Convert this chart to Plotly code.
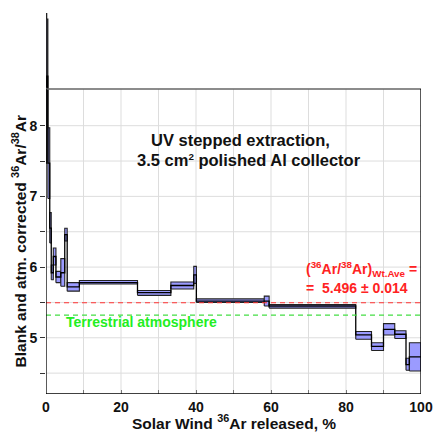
import plotly.graph_objects as go

# Step segments: released fraction (%) start/end, ratio lower/upper bound, central value
x_start = [0.0, 0.2, 0.5, 1.0, 1.4, 1.95, 2.65, 3.95, 5.0, 5.65, 8.9, 24.4, 33.3, 39.4, 40.1, 58.2, 59.5, 82.6, 86.8, 90.0, 93.0, 96.0, 96.9]
x_end   = [0.2, 0.5, 1.0, 1.4, 1.95, 2.65, 3.95, 5.0, 5.65, 8.9, 24.4, 33.3, 39.4, 40.1, 58.2, 59.5, 82.6, 86.8, 90.0, 93.0, 96.0, 96.9, 100.0]
ratio_lo = [7.47, 7.95, 6.97, 6.34, 5.82, 6.03, 5.78, 5.73, 6.37, 5.66, 5.76, 5.60, 5.69, 5.77, 5.50, 5.45, 5.42, 4.98, 4.82, 5.04, 4.99, 4.54, 4.53]
ratio_hi = [9.64, 9.51, 7.97, 6.77, 6.03, 6.27, 5.94, 6.12, 6.55, 5.78, 5.81, 5.67, 5.79, 6.01, 5.55, 5.59, 5.47, 5.09, 4.93, 5.20, 5.10, 4.71, 4.93]
ratio_c  = [8.55, 8.70, 7.47, 6.55, 5.92, 6.15, 5.86, 5.92, 6.46, 5.72, 5.78, 5.64, 5.74, 5.89, 5.52, 5.52, 5.45, 5.04, 4.88, 5.12, 5.05, 4.62, 4.73]

wt_ave = 5.496
terrestrial = 5.32

y_ticks = [4.5, 5.0, 5.5, 6.0, 6.5, 7.0, 7.5, 8.0]
y_labels = ["", "5", "", "6", "", "7", "", "8"]
x_ticks = [0, 10, 20, 30, 40, 50, 60, 70, 80, 90, 100]
x_labels = ["0", "", "20", "", "40", "", "60", "", "80", "", "100"]

Y_MIN, Y_MAX = 4.205, 9.594
FRAME_TOP = 8.52

fig = go.Figure()

for xs, xe, lo, hi in zip(x_start, x_end, ratio_lo, ratio_hi):
    fig.add_trace(go.Scatter(
        x=[xs, xe, xe, xs, xs], y=[lo, lo, hi, hi, lo],
        mode="lines", fill="toself", fillcolor="rgb(155,155,255)",
        line=dict(color="#222222", width=1.1), hoverinfo="skip"))

fig.add_trace(go.Scatter(
    x=x_start + [x_end[-1]], y=ratio_c + [ratio_c[-1]],
    mode="lines", line=dict(color="black", width=1.3, shape="hv"), hoverinfo="skip"))

shapes = []
for v in y_ticks:
    shapes.append(dict(type="line", xref="x", yref="y", x0=0, x1=100, y0=v, y1=v,
                       line=dict(color="#dddddd", width=1), layer="below"))
for v in x_ticks[1:-1]:
    shapes.append(dict(type="line", xref="x", yref="y", x0=v, x1=v, y0=Y_MIN, y1=FRAME_TOP,
                       line=dict(color="#dddddd", width=1), layer="below"))
# reference lines
shapes.append(dict(type="line", xref="x", yref="y", x0=0, x1=100, y0=wt_ave, y1=wt_ave,
                   line=dict(color="#ff3333", width=1.1, dash="5px,4px")))
shapes.append(dict(type="line", xref="x", yref="y", x0=0, x1=100, y0=terrestrial, y1=terrestrial,
                   line=dict(color="#44dd44", width=1.1, dash="5px,4px")))
# frame
shapes.append(dict(type="line", xref="x", yref="y", x0=0, x1=100, y0=FRAME_TOP, y1=FRAME_TOP,
                   line=dict(color="#666666", width=1.5)))
shapes.append(dict(type="line", xref="x", yref="y", x0=0, x1=0, y0=Y_MIN, y1=FRAME_TOP,
                   line=dict(color="black", width=1.3)))
shapes.append(dict(type="line", xref="x", yref="y", x0=100, x1=100, y0=Y_MIN, y1=FRAME_TOP,
                   line=dict(color="black", width=1.3)))
shapes.append(dict(type="line", xref="x", yref="y", x0=0, x1=100, y0=Y_MIN, y1=Y_MIN,
                   line=dict(color="black", width=1.5)))

FONT = "Liberation Sans, Arial, sans-serif"
annotations = [
    dict(x=27.5, y=7.80, xref="x", yref="y", text="<b>UV stepped extraction,</b>", showarrow=False,
         xanchor="left", yanchor="middle", font=dict(family=FONT, size=16.5, color="#111111")),
    dict(x=23.6, y=7.515, xref="x", yref="y",
         text="<b>3.5 cm<span style='font-size:14px'><sup>2</sup></span> polished Al collector</b>", showarrow=False,
         xanchor="left", yanchor="middle", font=dict(family=FONT, size=16.5, color="#111111")),
    dict(x=68.9, y=5.98, xref="x", yref="y",
         text="<b>(<sup>36</sup>Ar/<sup>38</sup>Ar)<sub>Wt.Ave</sub> =</b>",
         showarrow=False, xanchor="left", yanchor="middle",
         font=dict(family=FONT, size=14, color="#ff2222")),
    dict(x=68.9, y=5.71, xref="x", yref="y", text="<b>=  5.496 \u00b1 0.014</b>", showarrow=False,
         xanchor="left", yanchor="middle", font=dict(family=FONT, size=14, color="#ff2222")),
    dict(x=4.8, y=5.22, xref="x", yref="y", text="<b>Terrestrial atmosphere</b>", showarrow=False,
         xanchor="left", yanchor="middle", font=dict(family=FONT, size=14, color="#22ee22")),
    dict(x=-0.0725, y=0.40, xref="paper", yref="paper", textangle=-90, xanchor="center", yanchor="middle",
         text="<b>Blank and atm. corrected <sup>36</sup>Ar/<sup>38</sup>Ar</b>", showarrow=False,
         font=dict(family=FONT, size=15.5, color="#111111")),
    dict(x=0.5, y=-0.0735, xref="paper", yref="paper", xanchor="center", yanchor="middle",
         text="<b>Solar Wind <sup>36</sup>Ar released, %</b>", showarrow=False,
         font=dict(family=FONT, size=15.5, color="#111111")),
]

fig.update_layout(
    width=445, height=434,
    margin=dict(l=46, r=13, t=13, b=40),
    plot_bgcolor="white", paper_bgcolor="white",
    showlegend=False,
    shapes=shapes, annotations=annotations,
    xaxis=dict(range=[0, 100], showgrid=False, zeroline=False, showline=False,
               tickmode="array", tickvals=x_ticks, ticktext=["<b>%s</b>" % t if t else "" for t in x_labels],
               ticks="inside", ticklen=4, tickcolor="#777777", ticklabelstandoff=3,
               tickfont=dict(family=FONT, size=14, color="#111111")),
    yaxis=dict(range=[Y_MIN, Y_MAX], showgrid=False, zeroline=False, showline=False,
               tickmode="array", tickvals=y_ticks, ticktext=["<b>%s</b>" % t if t else "" for t in y_labels],
               ticks="outside", ticklen=5, tickcolor="#333333",
               tickfont=dict(family=FONT, size=14, color="#111111")),
)

fig.write_html("out.html", config={"displayModeBar": False},
               post_script="document.body.style.margin='0';document.body.style.padding='0';"
                           "document.documentElement.style.overflow='hidden';")
